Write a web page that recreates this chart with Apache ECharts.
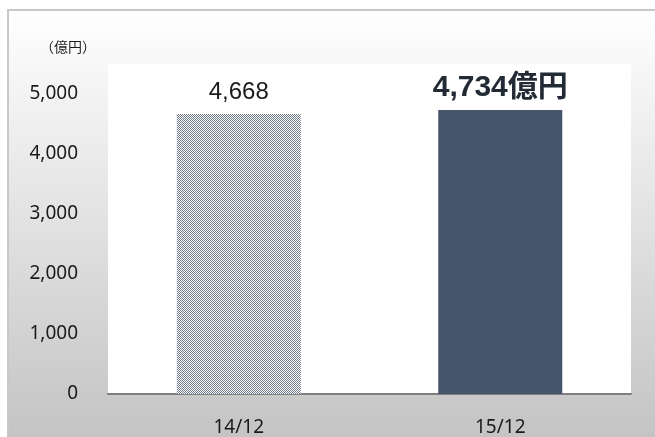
<!DOCTYPE html>
<html>
<head>
<meta charset="utf-8">
<script src="https://cdn.jsdelivr.net/npm/echarts@6/dist/echarts.min.js"></script>
<style>
html,body{margin:0;padding:0;background:#fff;}
#main{width:655px;height:437px;}
</style>
</head>
<body>
<div id="main"></div>
<script>
var categories = ['14/12', '15/12'];
var values = [4668, 4734];
var valueLabels = ['4,668', '4,734億円'];
var yTicks = [0, 1000, 2000, 3000, 4000, 5000];
var unitLabel = '（億円）';

// checker pattern for the first bar
var pc = document.createElement('canvas');
pc.width = 2; pc.height = 2;
var pctx = pc.getContext('2d');
pctx.fillStyle = '#ffffff';
pctx.fillRect(0, 0, 2, 2);
pctx.fillStyle = '#6f7a8c';
pctx.fillRect(0, 0, 1, 1);
pctx.fillRect(1, 1, 1, 1);

var chart = echarts.init(document.getElementById('main'), null, {renderer: 'canvas'});
var option = {
  animation: false,
  backgroundColor: '#ffffff',
  graphic: [
    {
      type: 'rect', z: -10,
      shape: {x: 8, y: 10, width: 660, height: 440},
      style: {
        fill: new echarts.graphic.LinearGradient(0, 0, 0, 1, [
          {offset: 0, color: '#ffffff'},
          {offset: 1, color: '#c2c2c2'}
        ]),
        stroke: '#c8c8c8', lineWidth: 2
      }
    },
    {
      type: 'text', left: 40, top: 40,
      style: {text: unitLabel, font: '14px "Noto Sans CJK JP"', fill: '#1a1a1a'}
    }
  ],
  grid: {left: 108, right: 24, top: 64, bottom: 43, show: true, backgroundColor: '#ffffff', borderWidth: 0},
  xAxis: {
    type: 'category',
    data: categories,
    axisTick: {show: false},
    axisLine: {lineStyle: {color: '#7f7f7f', width: 2}},
    axisLabel: {color: '#1a1a1a', fontSize: 19, fontFamily: 'Noto Sans', margin: 24}
  },
  yAxis: {
    type: 'value',
    min: 0, max: 5500, interval: 1000,
    axisLine: {show: false},
    axisTick: {show: false},
    splitLine: {show: false},
    axisLabel: {
      color: '#1a1a1a', fontSize: 19, fontFamily: 'Noto Sans', margin: 30,
      showMaxLabel: false,
      formatter: function (v) { return yTicks.indexOf(v) >= 0 ? v.toLocaleString('en-US') : ''; }
    }
  },
  series: [{
    type: 'bar',
    barWidth: 124,
    data: [
      {
        value: values[0],
        itemStyle: {color: {image: pc, repeat: 'repeat'}},
        label: {show: true, position: 'top', distance: 10, formatter: valueLabels[0],
          fontSize: 24, fontFamily: 'Liberation Sans', color: '#1a1a1a'}
      },
      {
        value: values[1],
        itemStyle: {color: '#44546a'},
        label: {show: true, position: 'top', distance: 7, formatter: valueLabels[1],
          fontSize: 30, fontWeight: 'bold', fontFamily: '"Liberation Sans", "Noto Sans CJK JP"', color: '#222a35'}
      }
    ]
  }]
};
chart.setOption(option);
</script>
</body>
</html>
